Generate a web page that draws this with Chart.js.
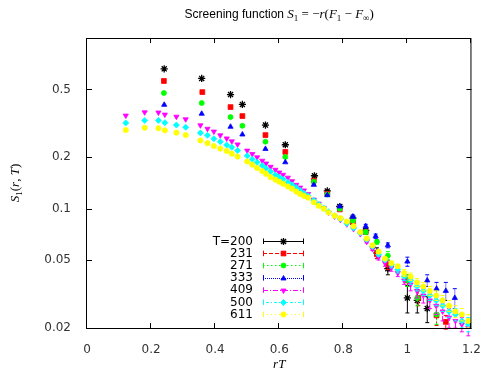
<!DOCTYPE html>
<html>
<head>
<meta charset="utf-8">
<script src="https://cdn.jsdelivr.net/npm/chart.js@4.4.1/dist/chart.umd.min.js"></script>
<style>
  html, body { margin: 0; padding: 0; background: #fff; }
  #wrap { width: 488px; height: 371px; }
</style>
</head>
<body>
<div id="wrap"><canvas id="chart" width="488" height="371"></canvas></div>
<script>
// legend labels and axis ticks
const temps = ['T=200', '231', '271', '333', '409', '500', '611'];
const xTicks = [0, 0.2, 0.4, 0.6, 0.8, 1, 1.2];
const yTicks = [0.02, 0.05, 0.1, 0.2, 0.5];

// T=200
const rT200 = [0.241, 0.358, 0.448, 0.485, 0.557, 0.619, 0.710, 0.750, 0.789, 0.830, 0.870, 0.905, 0.939, 1.000, 1.031, 1.062];
const s200  = [0.66, 0.58, 0.466, 0.408, 0.309, 0.237, 0.156, 0.127, 0.103, 0.088, 0.0745, 0.055, 0.0445, 0.030, 0.029, 0.026];
const e200  = [0, 0, 0, 0, 0, 0, 0.001, 0.001, 0.002, 0.002, 0.002, 0.004, 0.0035, 0.0055, 0.0045, 0.0045];

// T=231
const rT231 = [0.240, 0.360, 0.448, 0.485, 0.557, 0.619, 0.708, 0.750, 0.789, 0.830, 0.870, 0.905, 0.939, 1.000, 1.034, 1.091, 1.120];
const s231  = [0.56, 0.482, 0.394, 0.349, 0.270, 0.215, 0.146, 0.122, 0.099, 0.083, 0.073, 0.054, 0.047, 0.038, 0.030, 0.0237, 0.0217];
const e231  = [0, 0, 0, 0, 0, 0, 0.001, 0.001, 0.001, 0.002, 0.002, 0.003, 0.003, 0.003, 0.003, 0.003, 0.002];

// T=271
const rT271 = [0.240, 0.358, 0.448, 0.485, 0.557, 0.619, 0.708, 0.750, 0.789, 0.830, 0.870, 0.905, 0.939, 1.000, 1.031, 1.091];
const s271  = [0.476, 0.416, 0.344, 0.306, 0.247, 0.201, 0.144, 0.121, 0.100, 0.085, 0.073, 0.064, 0.053, 0.038, 0.030, 0.024];
const e271  = [0, 0, 0, 0, 0, 0, 0.001, 0.001, 0.001, 0.002, 0.002, 0.002, 0.003, 0.003, 0.003, 0.003];

// T=333
const rT333 = [0.241, 0.358, 0.448, 0.485, 0.557, 0.619, 0.708, 0.750, 0.789, 0.830, 0.870, 0.901, 0.939, 1.000, 1.062, 1.091, 1.120, 1.148];
const s333  = [0.406, 0.360, 0.302, 0.272, 0.224, 0.187, 0.138, 0.120, 0.103, 0.090, 0.079, 0.069, 0.061, 0.049, 0.038, 0.034, 0.033, 0.030];
const e333  = [0, 0, 0, 0, 0, 0, 0.001, 0.001, 0.001, 0.002, 0.002, 0.002, 0.002, 0.003, 0.003, 0.003, 0.004, 0.004];

// T=409, 500, 611 share the same rT values
const rTfine = [0.121, 0.180, 0.223, 0.243, 0.279, 0.308, 0.354, 0.376, 0.396, 0.416,
  0.436, 0.452, 0.470, 0.500, 0.516, 0.531, 0.547, 0.559, 0.573, 0.588,
  0.600, 0.612, 0.627, 0.640, 0.653, 0.665, 0.677, 0.690, 0.708, 0.723,
  0.739, 0.754, 0.773, 0.791, 0.811, 0.832, 0.853, 0.873, 0.891, 0.910,
  0.930, 0.950, 0.970, 0.990, 1.010, 1.030, 1.050, 1.070, 1.090, 1.110,
  1.130, 1.150, 1.170, 1.190];
const s409 = [0.351, 0.367, 0.366, 0.356, 0.346, 0.334, 0.308, 0.294, 0.283, 0.269,
  0.258, 0.248, 0.238, 0.219, 0.209, 0.200, 0.191, 0.184, 0.176, 0.169,
  0.163, 0.158, 0.152, 0.145, 0.138, 0.133, 0.128, 0.122, 0.113, 0.107,
  0.101, 0.095, 0.090, 0.086, 0.081, 0.076, 0.071, 0.064, 0.058, 0.052,
  0.048, 0.045, 0.042, 0.038, 0.036, 0.033, 0.031, 0.029, 0.027, 0.025,
  0.023, 0.022, 0.021, 0.020];
const s500 = [0.318, 0.329, 0.329, 0.319, 0.309, 0.300, 0.278, 0.269, 0.257, 0.247,
  0.236, 0.229, 0.219, 0.204, 0.195, 0.187, 0.179, 0.172, 0.165, 0.158,
  0.153, 0.149, 0.143, 0.138, 0.133, 0.128, 0.123, 0.119, 0.112, 0.106,
  0.101, 0.096, 0.091, 0.087, 0.082, 0.077, 0.072, 0.066, 0.060, 0.054,
  0.050, 0.047, 0.044, 0.040, 0.038, 0.035, 0.033, 0.031, 0.029, 0.027,
  0.025, 0.024, 0.022, 0.021];
const s611 = [0.289, 0.298, 0.296, 0.288, 0.279, 0.270, 0.251, 0.242, 0.233, 0.225,
  0.218, 0.210, 0.202, 0.189, 0.181, 0.173, 0.166, 0.160, 0.153, 0.148,
  0.144, 0.140, 0.135, 0.131, 0.126, 0.122, 0.119, 0.116, 0.109, 0.104,
  0.100, 0.095, 0.091, 0.088, 0.084, 0.079, 0.073, 0.067, 0.061, 0.056,
  0.051, 0.048, 0.046, 0.042, 0.040, 0.037, 0.035, 0.033, 0.031, 0.029,
  0.027, 0.025, 0.024, 0.022];
const e409 = [0, 0, 0, 0, 0, 0, 0, 0, 0, 0, 0, 0, 0, 0, 0, 0, 0, 0, 0, 0,
  0, 0, 0, 0, 0, 0, 0, 0, 0, 0, 0, 0, 0, 0, 0, 0, 0, 0.001, 0.001, 0.002,
  0.002, 0.002, 0.002, 0.002, 0.003, 0.003, 0.003, 0.003, 0.003, 0.003, 0.003, 0.002, 0.002, 0.002];
const e500 = [0, 0, 0, 0, 0, 0, 0, 0, 0, 0, 0, 0, 0, 0, 0, 0, 0, 0, 0, 0,
  0, 0, 0, 0, 0, 0, 0, 0, 0, 0, 0, 0, 0, 0, 0, 0, 0, 0.001, 0.001, 0.001,
  0.001, 0.002, 0.002, 0.002, 0.002, 0.002, 0.002, 0.002, 0.002, 0.002, 0.002, 0.002, 0.002, 0.002];
const e611 = [0, 0, 0, 0, 0, 0, 0, 0, 0, 0, 0, 0, 0, 0, 0, 0, 0, 0, 0, 0,
  0, 0, 0, 0, 0, 0, 0, 0, 0, 0, 0, 0, 0, 0, 0, 0, 0, 0.001, 0.001, 0.001,
  0.001, 0.001, 0.001, 0.002, 0.002, 0.002, 0.002, 0.002, 0.002, 0.002, 0.002, 0.002, 0.002, 0.002];

const series = [
  [rT200, s200, e200], [rT231, s231, e231], [rT271, s271, e271], [rT333, s333, e333],
  [rTfine, s409, e409], [rTfine, s500, e500], [rTfine, s611, e611]
];

// gnuplot-like look for each temperature
const looks = [
  { color: '#000000', shape: 'star', r: 3.6, rot: 0, dash: [] },
  { color: '#ff0000', shape: 'rect', r: 3.4, rot: 0, dash: [4, 2] },
  { color: '#00ff00', shape: 'circle', r: 2.5, rot: 0, dash: [1.5, 2.5] },
  { color: '#0000ff', shape: 'triangle', r: 3.0, rot: 0, dash: [1, 1] },
  { color: '#ff00ff', shape: 'triangle', r: 3.0, rot: 180, dash: [5, 2, 1, 2] },
  { color: '#00ffff', shape: 'rectRot', r: 3.0, rot: 0, dash: [1, 2, 3, 2] },
  { color: '#ffff00', shape: 'circle', r: 2.6, rot: 0, dash: [1, 3] }
];

const datasets = series.map(([xs, ys, es], i) => ({
  label: temps[i],
  data: xs.map((x, j) => ({ x: x, y: ys[j] })),
  errors: es,
  order: -i,
  showLine: false,
  pointStyle: looks[i].shape,
  pointRadius: looks[i].r,
  pointRotation: looks[i].rot,
  pointBackgroundColor: looks[i].color,
  pointBorderColor: looks[i].color,
  pointBorderWidth: looks[i].shape === 'star' ? 1.3 : 0.8
}));

const serif = (size, italic) => (italic ? 'italic ' : '') + size + 'px "Liberation Serif"';

function drawPieces(ctx, pieces, cx, baseY) {
  let total = 0;
  pieces.forEach(p => { ctx.font = p.f; total += ctx.measureText(p.t).width; });
  let x = cx - total / 2;
  ctx.textAlign = 'left';
  ctx.textBaseline = 'alphabetic';
  pieces.forEach(p => {
    ctx.font = p.f;
    ctx.fillText(p.t, x, baseY + (p.dy || 0));
    x += ctx.measureText(p.t).width;
  });
}

function markerAt(ctx, i, x, y) {
  const lk = looks[i];
  ctx.save();
  ctx.fillStyle = lk.color;
  ctx.strokeStyle = lk.color;
  ctx.lineWidth = lk.shape === 'star' ? 1.3 : 0.8;
  ctx.setLineDash([]);
  if (Chart.helpers && Chart.helpers.drawPoint) {
    Chart.helpers.drawPoint(ctx, { pointStyle: lk.shape, radius: lk.r, rotation: lk.rot, borderWidth: ctx.lineWidth }, x, y);
  } else {
    ctx.beginPath(); ctx.arc(x, y, lk.r, 0, Math.PI * 2); ctx.fill();
  }
  ctx.restore();
}

const errorBars = {
  id: 'errorBars',
  beforeDatasetDraw(chart, args) {
    const ds = chart.data.datasets[args.index];
    const ys = chart.scales.y;
    const ctx = chart.ctx;
    const lk = looks[args.index];
    ctx.save();
    ctx.strokeStyle = lk.color;
    ctx.lineWidth = 1;
    args.meta.data.forEach((pt, j) => {
      const e = ds.errors[j];
      if (!e) return;
      const v = ds.data[j].y;
      const y1 = ys.getPixelForValue(Math.max(v - e, 0.0001));
      const y2 = ys.getPixelForValue(v + e);
      ctx.setLineDash(lk.dash);
      ctx.beginPath();
      ctx.moveTo(pt.x, y1); ctx.lineTo(pt.x, y2);
      ctx.stroke();
      ctx.setLineDash([]);
      ctx.beginPath();
      ctx.moveTo(pt.x - 2, y1); ctx.lineTo(pt.x + 2, y1);
      ctx.moveTo(pt.x - 2, y2); ctx.lineTo(pt.x + 2, y2);
      ctx.stroke();
    });
    ctx.restore();
  }
};

const frame = {
  id: 'frame',
  afterDraw(chart) {
    const { ctx, chartArea: a, scales } = chart;
    ctx.save();
    ctx.strokeStyle = '#000';
    ctx.lineWidth = 1;
    ctx.setLineDash([]);
    ctx.strokeRect(Math.round(a.left) - 0.5, Math.round(a.top) + 0.5, a.right - a.left, a.bottom - a.top);
    // inward ticks on all four sides
    ctx.beginPath();
    xTicks.forEach(v => {
      const px = Math.round(scales.x.getPixelForValue(v)) - 0.5;
      ctx.moveTo(px, a.bottom); ctx.lineTo(px, a.bottom - 5);
      ctx.moveTo(px, a.top); ctx.lineTo(px, a.top + 5);
    });
    yTicks.forEach(v => {
      const py = Math.round(scales.y.getPixelForValue(v)) + 0.5;
      ctx.moveTo(a.left, py); ctx.lineTo(a.left + 5, py);
      ctx.moveTo(a.right, py); ctx.lineTo(a.right - 5, py);
    });
    ctx.stroke();

    // title
    ctx.fillStyle = '#000';
    drawPieces(ctx, [
      { t: 'Screening function ', f: '12px "Liberation Sans"' },
      { t: 'S', f: serif(13, true) }, { t: '1', f: serif(9), dy: 3 },
      { t: ' = \u2212', f: serif(13) }, { t: 'r', f: serif(13, true) },
      { t: '(', f: serif(13) }, { t: 'F', f: serif(13, true) }, { t: '1', f: serif(9), dy: 3 },
      { t: ' \u2212 ', f: serif(13) }, { t: 'F', f: serif(13, true) }, { t: '\u221e', f: serif(9), dy: 3 },
      { t: ')', f: serif(13) }
    ], (a.left + a.right) / 2, 18);

    // x axis title
    drawPieces(ctx, [{ t: 'rT', f: serif(13, true) }], (a.left + a.right) / 2, 368);

    // y axis title
    ctx.save();
    ctx.translate(19, (a.top + a.bottom) / 2);
    ctx.rotate(-Math.PI / 2);
    drawPieces(ctx, [
      { t: 'S', f: serif(13, true) }, { t: '1', f: serif(9), dy: 3 },
      { t: '(', f: serif(13) }, { t: 'r', f: serif(13, true) }, { t: ', ', f: serif(13) },
      { t: 'T', f: serif(13, true) }, { t: ')', f: serif(13) }
    ], 0, 0);
    ctx.restore();

    // key
    const kx = 253, lx0 = 263, lx1 = 304, ky0 = 241, kdy = 12.2;
    chart.data.datasets.forEach((ds, i) => {
      const y = ky0 + i * kdy;
      ctx.fillStyle = '#000';
      ctx.font = '12px "DejaVu Sans"';
      ctx.textAlign = 'right';
      ctx.textBaseline = 'middle';
      ctx.fillText(ds.label, kx, y + 0.5);
      ctx.strokeStyle = looks[i].color;
      ctx.lineWidth = 1;
      ctx.setLineDash(looks[i].dash);
      ctx.beginPath();
      ctx.moveTo(lx0, Math.round(y) + 0.5); ctx.lineTo(lx1, Math.round(y) + 0.5);
      ctx.stroke();
      ctx.setLineDash([]);
      ctx.beginPath();
      ctx.moveTo(lx0 + 0.5, y - 2.5); ctx.lineTo(lx0 + 0.5, y + 3);
      ctx.moveTo(lx1 - 0.5, y - 2.5); ctx.lineTo(lx1 - 0.5, y + 3);
      ctx.stroke();
      markerAt(ctx, i, (lx0 + lx1) / 2, Math.round(y) + 0.5);
    });
    ctx.restore();
  }
};

new Chart(document.getElementById('chart'), {
  type: 'scatter',
  data: { datasets: datasets },
  options: {
    responsive: false,
    animation: false,
    devicePixelRatio: 1,
    layout: { padding: { top: 38, right: 13, left: 0, bottom: 0 } },
    plugins: { legend: { display: false }, title: { display: false }, tooltip: { enabled: false } },
    scales: {
      x: {
        type: 'linear', min: 0, max: 1.2,
        afterBuildTicks: s => { s.ticks = xTicks.map(v => ({ value: v })); },
        afterFit: s => { s.height = 43; },
        grid: { display: false }, border: { display: false },
        ticks: {
          autoSkip: false, maxRotation: 0, padding: 7, color: '#333',
          font: { family: 'DejaVu Sans', size: 12 },
          callback: v => String(Math.round(v * 10) / 10)
        }
      },
      y: {
        type: 'logarithmic', min: 0.02, max: 1,
        afterBuildTicks: s => { s.ticks = yTicks.map(v => ({ value: v })); },
        afterFit: s => { s.width = 87; },
        grid: { display: false }, border: { display: false },
        ticks: {
          autoSkip: false, padding: 8, color: '#333',
          font: { family: 'DejaVu Sans', size: 12 },
          callback: v => String(v)
        }
      }
    }
  },
  plugins: [errorBars, frame]
});
</script>
</body>
</html>
